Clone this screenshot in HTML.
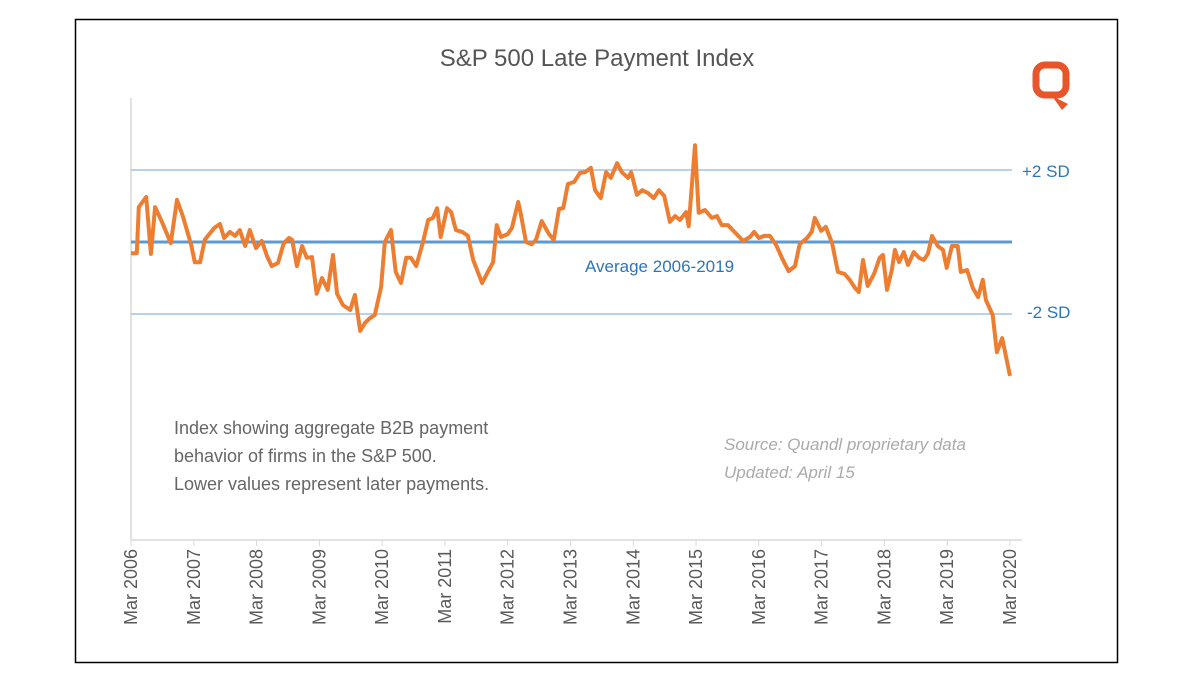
<!DOCTYPE html>
<html><head><meta charset="utf-8"><style>
body{margin:0;background:#fff;width:1192px;height:686px;overflow:hidden}
svg text{font-family:"Liberation Sans",sans-serif}
</style></head><body>
<svg id="chart" width="1192" height="686" xmlns="http://www.w3.org/2000/svg">
<rect x="75.5" y="19.5" width="1042" height="643" fill="#fff" stroke="#000" stroke-width="1.5"/>
<text x="597" y="66" text-anchor="middle" font-size="24" fill="#555">S&amp;P 500 Late Payment Index</text>
<g>
<rect x="1036" y="65" width="30" height="30" rx="9" fill="none" stroke="#e8552a" stroke-width="7"/>
<polygon points="1052,96 1068,104 1062,110" fill="#e8552a"/>
</g>
<line x1="131" y1="98" x2="131" y2="540" stroke="#d9d9d9" stroke-width="1.5"/>
<g id="ref"></g>
<g id="xaxis"></g>
<path id="series" fill="none" stroke="#ed7d31" stroke-width="4" stroke-linejoin="round"/>
<text x="1022" y="177" font-size="17" fill="#2e75b6">+2 SD</text>
<text x="1027" y="318" font-size="17" fill="#2e75b6">-2 SD</text>
<text x="585" y="272" font-size="17" fill="#2e75b6">Average 2006-2019</text>
<g font-size="18" fill="#666">
<text x="174" y="434">Index showing aggregate B2B payment</text>
<text x="174" y="462">behavior of firms in the S&amp;P 500.</text>
<text x="174" y="490">Lower values represent later payments.</text>
</g>
<g font-size="17" fill="#aaa" font-style="italic">
<text x="724" y="450">Source: Quandl proprietary data</text>
<text x="724" y="478">Updated: April 15</text>
</g>
</svg>
<script>
const months=[0,1.1,1.5,2.9,3.8,4.6,5.9,7.6,8.8,9.9,11.5,12.2,13.2,14.1,15.9,17,17.8,18.9,19.9,20.8,21.8,22.7,23.9,25,26,26.9,28.1,29.2,30.2,30.8,31.7,32.7,33.6,34.6,35.5,36.5,37.6,38.6,39.4,40.5,41.9,42.8,43.8,44.7,45.7,46.6,47.8,48.5,49.7,50.6,51.6,52.6,53.5,54.5,55.8,56.8,57.7,58.5,59.2,60.4,61.2,62.1,63.3,64.4,65.4,67.1,68.2,69.2,69.9,70.7,72,72.8,74,74.5,75.5,76.6,77.4,78.5,79.9,80.8,81.8,82.6,83.5,84.7,85.8,86.8,87.9,88.7,89.8,90.8,91.7,92.9,93.8,95,95.6,96.7,97.7,98.8,99.9,100.9,101.9,103,104,104.9,106.1,106.6,107.8,108.5,109.7,111,112,112.9,114.1,115,117,118.3,119.1,120,121,122.1,123.3,124.6,125.7,126.9,127.8,129.2,130.1,130.7,131.9,132.8,134,135.1,136.4,137.4,138.4,139.1,139.9,140.8,142,143.1,143.7,144.5,145.4,146,146.8,147.7,148.5,149.6,150.6,151.5,152.3,153.1,154.2,155.2,155.9,156.9,158,158.6,159.8,160.9,161.9,162.8,163.4,164.7,165.5,166.5,168];
const values=[-0.31,-0.31,0.97,1.25,-0.33,0.97,0.56,-0.03,1.17,0.72,-0.08,-0.56,-0.56,0.06,0.39,0.5,0.11,0.28,0.17,0.33,-0.11,0.33,-0.17,0.03,-0.39,-0.67,-0.58,-0.03,0.11,0.06,-0.67,-0.11,-0.44,-0.42,-1.44,-1,-1.33,-0.36,-1.44,-1.75,-1.89,-1.47,-2.47,-2.25,-2.11,-2.03,-1.25,0,0.33,-0.83,-1.14,-0.44,-0.44,-0.67,0,0.61,0.67,0.94,0.14,0.94,0.83,0.33,0.28,0.17,-0.5,-1.14,-0.83,-0.56,0.47,0.14,0.22,0.39,1.11,0.78,0,-0.06,0.06,0.58,0.22,0.06,0.92,0.94,1.61,1.67,1.92,1.94,2.06,1.44,1.22,1.94,1.78,2.19,1.94,1.78,1.94,1.31,1.44,1.36,1.22,1.44,1.28,0.56,0.72,0.61,0.83,0.44,2.69,0.81,0.89,0.67,0.72,0.47,0.47,0.33,0.03,0.14,0.28,0.11,0.17,0.17,-0.08,-0.5,-0.81,-0.67,-0.06,0.11,0.28,0.67,0.31,0.42,-0.03,-0.83,-0.89,-1.06,-1.28,-1.39,-0.5,-1.22,-0.89,-0.44,-0.36,-1.33,-0.78,-0.22,-0.56,-0.28,-0.64,-0.28,-0.44,-0.5,-0.33,0.17,-0.11,-0.22,-0.72,-0.11,-0.11,-0.83,-0.78,-1.28,-1.53,-1.05,-1.61,-2.03,-3.06,-2.67,-3.72];
const refValues=[2,0,-2];
const refNames=['plus-2sd-line','average-line','minus-2sd-line'];
const tickLabels=['Mar 2006','Mar 2007','Mar 2008','Mar 2009','Mar 2010','Mar 2011','Mar 2012','Mar 2013','Mar 2014','Mar 2015','Mar 2016','Mar 2017','Mar 2018','Mar 2019','Mar 2020'];
const NS='http://www.w3.org/2000/svg';
const X=m=>131+m*(879/168);
const Y=v=>242-v*36;
const ref=document.getElementById('ref');
refValues.forEach((v,i)=>{
 const l=document.createElementNS(NS,'line');
 
 
 l.setAttribute('x1',131);l.setAttribute('x2',1012);
 l.setAttribute('y1',Y(v));l.setAttribute('y2',Y(v));
 l.setAttribute('stroke',v===0?'#5b9bd5':'#9dc3e6');
 l.setAttribute('stroke-width',v===0?3:1.5);
 ref.appendChild(l);
});
const xa=document.getElementById('xaxis');
const ax=document.createElementNS(NS,'line');


ax.setAttribute('x1',131);ax.setAttribute('x2',1022);ax.setAttribute('y1',540);ax.setAttribute('y2',540);
ax.setAttribute('stroke','#d9d9d9');ax.setAttribute('stroke-width',1.5);
xa.appendChild(ax);
tickLabels.forEach((t,i)=>{
 const x=X(i*12);
 const tk=document.createElementNS(NS,'line');
 
 
 tk.setAttribute('x1',x);tk.setAttribute('x2',x);tk.setAttribute('y1',540);tk.setAttribute('y2',546);
 tk.setAttribute('stroke','#d9d9d9');
 xa.appendChild(tk);
 const tx=document.createElementNS(NS,'text');
 
 
 tx.setAttribute('transform',`translate(${x+6},549) rotate(-90)`);
 tx.setAttribute('text-anchor','end');
 tx.setAttribute('font-size','18');
 tx.setAttribute('fill','#595959');
 tx.textContent=t;
 xa.appendChild(tx);
});
document.getElementById('series').setAttribute('d',months.map((m,i)=>(i?'L':'M')+X(m).toFixed(1)+' '+Y(values[i]).toFixed(1)).join(''));
</script>
</body></html>
